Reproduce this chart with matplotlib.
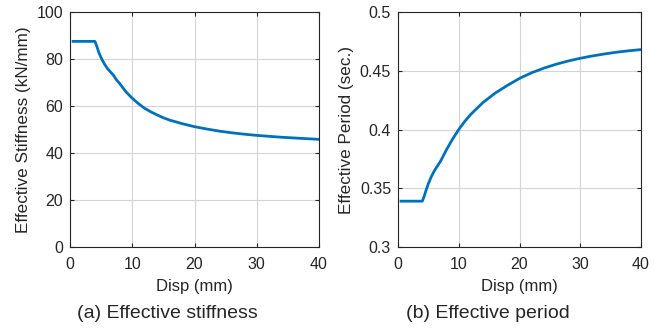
import numpy as np
import matplotlib.pyplot as plt

plt.rcParams['font.family'] = ['Liberation Sans', 'DejaVu Sans']
plt.rcParams['text.color'] = '#262626'
plt.rcParams['axes.labelcolor'] = '#262626'
plt.rcParams['xtick.color'] = '#262626'
plt.rcParams['ytick.color'] = '#262626'

disp = [0.5, 1, 2, 3, 4, 4.3, 4.6, 5, 5.5, 6, 6.5, 7, 7.5, 8, 9, 10, 11, 12, 13,
        14, 15, 16, 18, 20, 22, 24, 26, 28, 30, 32, 34, 36, 38, 40]
stiffness = [87.5, 87.5, 87.5, 87.5, 87.5, 85.5, 83, 80.5, 78, 76, 74.5, 73, 71,
             69.5, 66, 63.3, 61, 59, 57.5, 56.2, 55, 54, 52.5, 51.2, 50.2, 49.3,
             48.6, 48, 47.5, 47.1, 46.7, 46.4, 46.1, 45.8]
period = [0.339, 0.339, 0.339, 0.339, 0.339, 0.343, 0.348, 0.354, 0.360, 0.365,
          0.369, 0.373, 0.378, 0.383, 0.392, 0.400, 0.407, 0.413, 0.418, 0.423,
          0.427, 0.431, 0.4375, 0.4435, 0.4483, 0.4522, 0.4555, 0.4583, 0.4606,
          0.4626, 0.4643, 0.4658, 0.467, 0.468]

blue = '#0072BD'
fig = plt.figure(figsize=(6.66, 3.29), dpi=100)
W, H = 666, 329

def setup(ax, caption, cx):
    ax.set_xlim(0, 40)
    ax.set_xticks([0, 10, 20, 30, 40])
    ax.grid(True, color='#d4d4d4', linewidth=0.8)
    ax.set_axisbelow(True)
    ax.tick_params(direction='in', length=3, labelsize=11.5, top=True, right=True,
                   labeltop=False, labelright=False)
    ax.tick_params(axis='x', pad=7)
    ax.tick_params(axis='y', pad=5)
    for s in ax.spines.values():
        s.set_linewidth(0.8)
        s.set_color('#262626')
    ax.set_xlabel('Disp (mm)', fontsize=12, labelpad=5)
    fig.text(cx / W, 1 - 313 / H, caption, ha='center', va='center', fontsize=14)

ax1 = fig.add_axes([70 / W, 1 - 247 / H, 249 / W, 235 / H])
ax1.plot(disp, stiffness, color=blue, linewidth=2)
ax1.set_ylim(0, 100)
ax1.set_yticks([0, 20, 40, 60, 80, 100])
ax1.set_ylabel('Effective Stiffness (kN/mm)', fontsize=12.3, labelpad=4)
setup(ax1, '(a) Effective stiffness', 167)

ax2 = fig.add_axes([398 / W, 1 - 247 / H, 243 / W, 235 / H])
ax2.plot(disp, period, color=blue, linewidth=2)
ax2.set_ylim(0.3, 0.5)
ax2.set_yticks([0.3, 0.35, 0.4, 0.45, 0.5])
ax2.set_yticklabels(['0.3', '0.35', '0.4', '0.45', '0.5'])
ax2.set_ylabel('Effective Period (sec.)', fontsize=12.3, labelpad=4)
setup(ax2, '(b) Effective period', 488)

fig.savefig('out.png', dpi=100)
